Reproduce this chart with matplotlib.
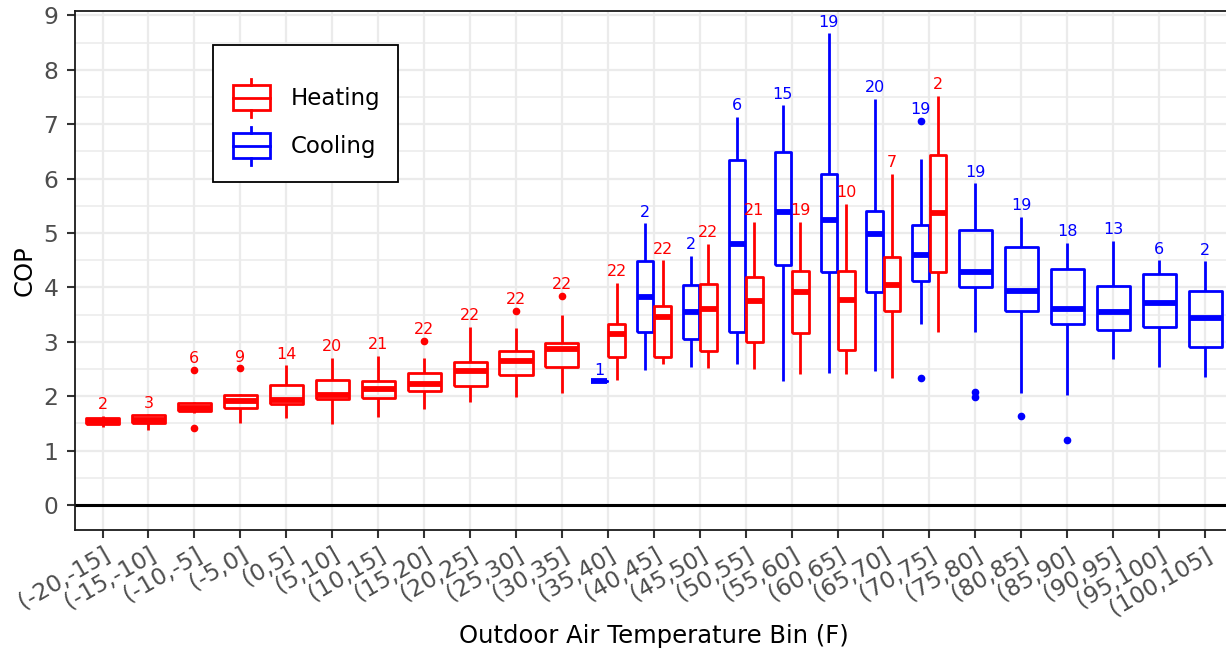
import matplotlib
matplotlib.use("Agg")
import matplotlib.pyplot as plt
from matplotlib.legend_handler import HandlerBase
from matplotlib.patches import Rectangle
from matplotlib.lines import Line2D

bins = ["(-20,-15]", "(-15,-10]", "(-10,-5]", "(-5,0]", "(0,5]", "(5,10]", "(10,15]",
        "(15,20]", "(20,25]", "(25,30]", "(30,35]", "(35,40]", "(40,45]", "(45,50]",
        "(50,55]", "(55,60]", "(60,65]", "(65,70]", "(70,75]", "(75,80]", "(80,85]",
        "(85,90]", "(90,95]", "(95,100]", "(100,105]"]

# Heating boxes: bins 0..18
heat_bin = list(range(0, 19))
heat_n = [2, 3, 6, 9, 14, 20, 21, 22, 22, 22, 22, 22, 22, 22, 21, 19, 10, 7, 2]
heat_wlo = [1.44, 1.38, 1.70, 1.50, 1.59, 1.49, 1.62, 1.76, 1.89, 1.98, 2.05, 2.29, 2.60, 2.51, 2.50, 2.41, 2.40, 2.34, 3.18]
heat_q1 = [1.49, 1.50, 1.73, 1.78, 1.86, 1.94, 1.96, 2.10, 2.19, 2.39, 2.54, 2.72, 2.72, 2.83, 3.00, 3.16, 2.84, 3.56, 4.29]
heat_med = [1.54, 1.57, 1.79, 1.91, 1.93, 2.02, 2.14, 2.23, 2.47, 2.65, 2.87, 3.15, 3.45, 3.60, 3.75, 3.91, 3.77, 4.04, 5.37]
heat_q3 = [1.59, 1.66, 1.88, 2.03, 2.20, 2.29, 2.28, 2.43, 2.63, 2.83, 2.98, 3.32, 3.66, 4.07, 4.19, 4.31, 4.30, 4.56, 6.43]
heat_whi = [1.64, 1.67, 1.89, 2.04, 2.57, 2.71, 2.74, 2.71, 3.28, 3.25, 3.49, 4.08, 4.50, 4.80, 5.21, 5.21, 5.54, 6.09, 7.52]
heat_fliers = [[], [], [2.49, 1.42], [2.51], [], [], [], [3.02], [], [3.57], [3.84],
               [], [], [], [], [], [], [], []]

# Cooling boxes: bins 11..24
cool_bin = list(range(11, 25))
cool_n = [1, 2, 2, 6, 15, 19, 20, 19, 19, 19, 18, 13, 6, 2]
cool_wlo = [2.27, 2.48, 2.54, 2.59, 2.27, 2.42, 2.47, 3.33, 3.18, 2.05, 2.02, 2.68, 2.53, 2.36]
cool_q1 = [2.27, 3.18, 3.05, 3.18, 4.42, 4.28, 3.92, 4.11, 4.01, 3.56, 3.33, 3.22, 3.27, 2.90]
cool_med = [2.27, 3.83, 3.55, 4.79, 5.39, 5.24, 4.99, 4.60, 4.29, 3.93, 3.60, 3.54, 3.71, 3.43]
cool_q3 = [2.27, 4.48, 4.05, 6.34, 6.49, 6.08, 5.40, 5.14, 5.06, 4.75, 4.33, 4.03, 4.24, 3.94]
cool_whi = [2.27, 5.18, 4.58, 7.14, 7.35, 8.67, 7.47, 6.36, 5.91, 5.30, 4.82, 4.86, 4.50, 4.48]
cool_fliers = [[], [], [], [], [], [], [], [7.06, 2.33], [2.08, 1.98], [1.64], [1.19], [], [], []]

HEAT_C = "#FF0000"
COOL_C = "#0000FF"

W, H, DPI = 1226, 653, 100
fig = plt.figure(figsize=(W / DPI, H / DPI), dpi=DPI)
ax_l, ax_r, ax_t, ax_b = 75, 1232.6, 10.5, 530
ax = fig.add_axes([ax_l / W, (H - ax_b) / H, (ax_r - ax_l) / W, (ax_b - ax_t) / H])

# grid
ax.set_axisbelow(True)
ax.set_yticks(range(0, 10))
ax.set_yticks([i + 0.5 for i in range(0, 9)], minor=True)
ax.grid(which="major", axis="both", color="#EBEBEB", lw=1.6)
ax.grid(which="minor", axis="y", color="#EBEBEB", lw=1.1)
ax.tick_params(axis="y", which="minor", length=0)
ax.axhline(0, color="black", lw=2.2, zorder=1.5)

both = set(heat_bin) & set(cool_bin)
SEP, WD, WS = 0.19, 0.36, 0.72


def draw(idx, n, wlo, q1, med, q3, whi, fl, color, side):
    stats, pos, wid = [], [], []
    for k, b in enumerate(idx):
        stats.append(dict(whislo=wlo[k], q1=q1[k], med=med[k], q3=q3[k], whishi=whi[k], fliers=fl[k]))
        if b in both:
            pos.append(b + side * SEP)
            wid.append(WD)
        else:
            pos.append(b)
            wid.append(WS)
    lp = dict(color=color, lw=2.0, solid_capstyle="butt")
    ax.bxp(stats, positions=pos, widths=wid, showcaps=False, manage_ticks=False,
           boxprops=lp, whiskerprops=lp,
           medianprops=dict(color=color, lw=4.2, solid_capstyle="butt"),
           flierprops=dict(marker="o", markerfacecolor=color, markeredgecolor=color, markersize=4.5))
    for k, p in enumerate(pos):
        top = max([whi[k]] + list(fl[k]))
        ax.annotate(str(n[k]), (p, top), xytext=(0, 8), textcoords="offset points",
                    ha="center", va="center", fontsize=11.5, color=color)


draw(cool_bin, cool_n, cool_wlo, cool_q1, cool_med, cool_q3, cool_whi, cool_fliers, COOL_C, -1)
draw(heat_bin, heat_n, heat_wlo, heat_q1, heat_med, heat_q3, heat_whi, heat_fliers, HEAT_C, +1)

ax.set_xticks(range(len(bins)))
ax.set_xticklabels(bins, rotation=30, ha="right", rotation_mode="anchor")
ax.tick_params(axis="both", which="major", labelsize=16.8, colors="#333333", labelcolor="#4D4D4D",
               length=6, width=1.5)
ax.tick_params(axis="y", which="major", pad=6)
for s in ax.spines.values():
    s.set_color("#1A1A1A")
    s.set_linewidth(1.3)

ax.set_xlim(-0.6, len(bins) - 1 + 0.6)
ax.set_ylim(-0.46, 9.09)

ax.set_xlabel("Outdoor Air Temperature Bin (F)", fontsize=17.5, color="black", labelpad=3)
ax.set_ylabel("COP", fontsize=17.5, color="black", labelpad=5)


class BoxHandler(HandlerBase):
    def create_artists(self, legend, orig_handle, xdescent, ydescent, width, height, fontsize, trans):
        c = orig_handle.get_color()
        x0, y0 = -xdescent, -ydescent
        xc = x0 + width / 2
        rect = Rectangle((x0, y0 + 0.18 * height), width, 0.64 * height, fill=False,
                         edgecolor=c, lw=2.0, transform=trans)
        med = Line2D([x0, x0 + width], [y0 + 0.5 * height] * 2, color=c, lw=2.0, transform=trans)
        w1 = Line2D([xc, xc], [y0 + 0.82 * height, y0 + height], color=c, lw=2.0, transform=trans)
        w2 = Line2D([xc, xc], [y0, y0 + 0.18 * height], color=c, lw=2.0, transform=trans)
        return [rect, med, w1, w2]


hh = [Line2D([], [], color=HEAT_C), Line2D([], [], color=COOL_C)]
axw, axh = ax_r - ax_l, ax_b - ax_t
leg = ax.legend(hh, ["Heating", "Cooling"], handler_map={Line2D: BoxHandler()},
                loc="upper left", bbox_to_anchor=((233 - ax_l) / axw, (ax_b - 78.5) / axh),
                borderpad=0, borderaxespad=0, frameon=False, fontsize=16.5,
                handlelength=1.6, handleheight=2.2, handletextpad=0.9, labelspacing=0.42)
ax.add_patch(Rectangle(((213 - ax_l) / axw, (ax_b - 182) / axh), (398 - 213) / axw, (182 - 45) / axh,
                       transform=ax.transAxes, fill=True, facecolor="white", edgecolor="black",
                       lw=1.3, zorder=4))
leg.set_zorder(5)

fig.savefig("out.png", dpi=DPI)
